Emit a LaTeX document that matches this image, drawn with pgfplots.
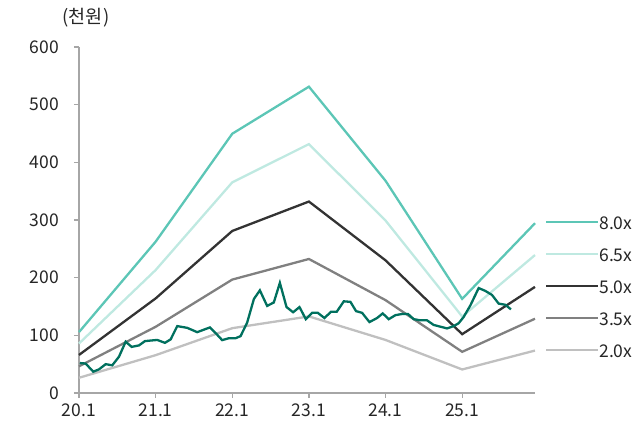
\documentclass[border=0pt]{standalone}
\usepackage{fontspec}
\setmainfont{Noto Sans CJK KR}
\usepackage{pgfplots}
\pgfplotsset{compat=1.18}
\definecolor{c80}{HTML}{5CC6B6}
\definecolor{c65}{HTML}{BFE9E1}
\definecolor{c50}{HTML}{333333}
\definecolor{c35}{HTML}{808080}
\definecolor{c20}{HTML}{C0C0C0}
\definecolor{cpr}{HTML}{00705E}
\definecolor{axc}{HTML}{A6A6A6}
\definecolor{txt}{HTML}{262626}
\begin{document}
\fontsize{17.5bp}{20bp}\selectfont
\begin{tikzpicture}
\useasboundingbox (-79bp,-34bp) rectangle (560bp,393bp);
\begin{axis}[
  at={(0,0)}, anchor=south west,
  scale only axis, width=456bp, height=346bp,
  xmin=0, xmax=5.95, ymin=0, ymax=600,
  axis lines*=left,
  axis line style={draw=axc, line width=1.3bp},
  tick style={draw=axc, line width=1.3bp},
  major tick length=5bp,
  tick align=outside,
  xtick={0,1,2,3,4,5},
  xticklabels={20.1,21.1,22.1,23.1,24.1,25.1},
  ytick={0,100,200,300,400,500,600},
  /pgf/number format/assume math mode=true,
  ticklabel style={font=\fontsize{17.5bp}{20bp}\selectfont, text=txt},
  yticklabel style={xshift=-9bp},
  clip=false,
  every axis plot/.append style={line width=2.3bp},
  legend style={draw=none, fill=none, at={(axis description cs:1,0.309)}, anchor=west, xshift=10bp, yshift=-3bp,
    inner sep=0pt, outer sep=0pt, row sep=16bp,
    nodes={inner sep=0pt, text height=12bp, text depth=4bp, text=txt, font=\fontsize{17.5bp}{20bp}\selectfont},
    /tikz/every even column/.append style={column sep=4bp}},
  legend image code/.code={\draw[#1] (0bp,3bp) -- (52bp,3bp);},
  legend cell align=left,
]
\addplot[c80, sharp plot] coordinates {(0,105.6) (1,262.4) (2,449.6) (3,531.2) (4,368) (5,163.2) (5.95,294.4)};
\addlegendentry{8.0x}
\addplot[c65, sharp plot] coordinates {(0,85.8) (1,213.2) (2,365.3) (3,431.6) (4,299) (5,132.6) (5.95,239.2)};
\addlegendentry{6.5x}
\addplot[c50, sharp plot] coordinates {(0,66) (1,164) (2,281) (3,332) (4,230) (5,102) (5.95,184)};
\addlegendentry{5.0x}
\addplot[c35, sharp plot] coordinates {(0,46.2) (1,114.8) (2,196.7) (3,232.4) (4,161) (5,71.4) (5.95,128.8)};
\addlegendentry{3.5x}
\addplot[c20, sharp plot] coordinates {(0,26.4) (1,65.6) (2,112.4) (3,132.8) (4,92) (5,40.8) (5.95,73.6)};
\addlegendentry{2.0x}
\addplot[cpr, sharp plot, forget plot] coordinates {
(0.01,52) (0.087,51) (0.186,37) (0.261,41) (0.348,50) (0.434,48) (0.522,63) (0.609,89)
(0.687,80) (0.782,82.5) (0.861,90) (0.939,91) (1.021,92) (1.121,87) (1.196,93) (1.282,116)
(1.412,113) (1.542,105.5) (1.708,113.7) (1.782,104) (1.868,91.7) (1.956,95) (2.043,95) (2.108,98.6)
(2.194,122) (2.282,163) (2.360,178) (2.455,151) (2.542,157) (2.621,191) (2.708,149) (2.794,140)
(2.877,149) (2.960,128) (3.042,139) (3.116,139) (3.203,130) (3.289,141) (3.364,141) (3.455,159)
(3.542,158) (3.615,142) (3.694,139) (3.790,123) (3.889,130) (3.963,138) (4.042,128) (4.129,135)
(4.215,137) (4.293,137) (4.368,128) (4.455,126) (4.541,126) (4.628,118) (4.716,115) (4.802,112)
(4.889,116) (4.954,121) (5.020,132) (5.107,152) (5.215,182) (5.302,177) (5.389,170) (5.476,155)
(5.563,153) (5.636,145)};
\node[text=txt, font=\fontsize{18.5bp}{22bp}\selectfont] at (rel axis cs:0,1) [xshift=7bp, yshift=29bp] {(천원)};
\end{axis}
\end{tikzpicture}
\end{document}
